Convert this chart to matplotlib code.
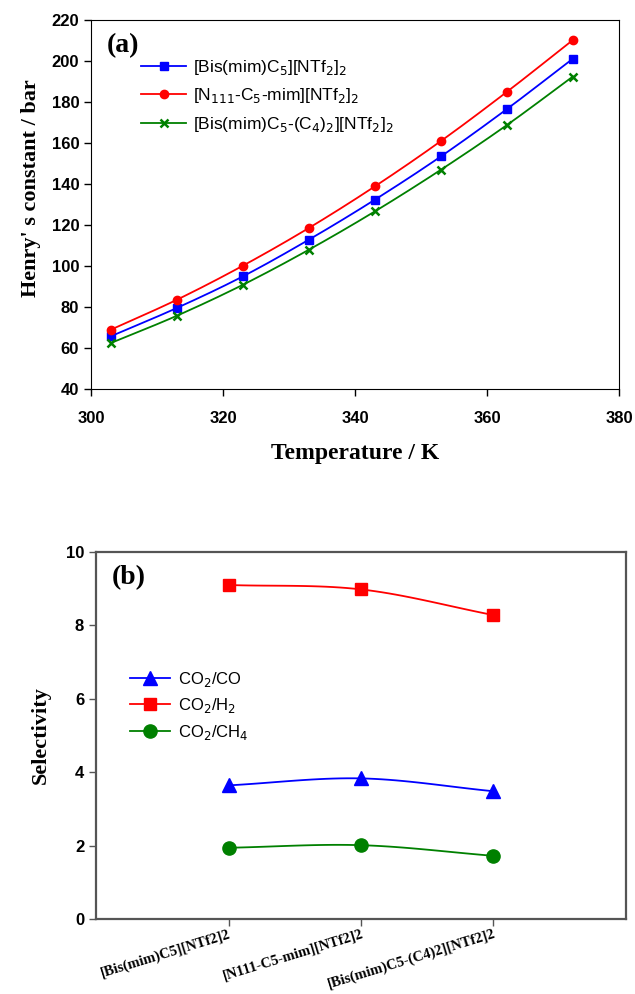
import matplotlib
matplotlib.use("Agg")
import matplotlib.pyplot as plt
import numpy as np

# ── Data
temps = [303, 313, 323, 333, 343, 353, 363, 373]
h_bis = [65.7, 79.5, 94.9, 112.8, 132.3, 153.4, 176.5, 201.1]
h_n111 = [68.9, 83.5, 100.1, 118.5, 138.8, 160.9, 184.9, 210.2]
h_bisc4 = [62.4, 75.7, 90.8, 107.9, 126.6, 146.9, 168.7, 192.4]

il_names = ["[Bis(mim)C5][NTf2]2", "[N111-C5-mim][NTf2]2", "[Bis(mim)C5-(C4)2][NTf2]2"]
sel_co = [3.64, 3.83, 3.48]
sel_h2 = [9.10, 8.98, 8.28]
sel_ch4 = [1.94, 2.01, 1.72]

SANS = "Liberation Sans"
SERIF = "Liberation Serif"


def smooth(x, y, n=20):
    # Catmull-Rom through the points
    x = np.asarray(x, float); y = np.asarray(y, float)
    px = np.concatenate([[2 * x[0] - x[1]], x, [2 * x[-1] - x[-2]]])
    py = np.concatenate([[2 * y[0] - y[1]], y, [2 * y[-1] - y[-2]]])
    xs, ys = [], []
    t = np.linspace(0, 1, n)
    for i in range(1, len(px) - 2):
        for p, out in ((px, xs), (py, ys)):
            p0, p1, p2, p3 = p[i - 1], p[i], p[i + 1], p[i + 2]
            out.append(0.5 * (2 * p1 + (-p0 + p2) * t
                              + (2 * p0 - 5 * p1 + 4 * p2 - p3) * t ** 2
                              + (-p0 + 3 * p1 - 3 * p2 + p3) * t ** 3))
    return np.concatenate(xs), np.concatenate(ys)


fig = plt.figure(figsize=(6.35, 9.94), dpi=100)

# ── (a) Henry's constant
ax1 = fig.add_axes([0.1433, 0.6087, 0.8315, 0.3712])
series_a = [
    (h_bis, "blue", "s", 5.5, r"[Bis(mim)C$_5$][NTf$_2$]$_2$"),
    (h_n111, "red", "o", 6, r"[N$_{111}$-C$_5$-mim][NTf$_2$]$_2$"),
    (h_bisc4, "green", "x", 6, r"[Bis(mim)C$_5$-(C$_4$)$_2$][NTf$_2$]$_2$"),
]
for vals, c, m, ms, lab in series_a:
    sx, sy = smooth(temps, vals)
    ax1.plot(sx, sy, color=c, lw=1.3)
    ax1.plot(temps, vals, ls="none", marker=m, color=c, ms=ms, mew=1.8 if m == "x" else 1)
    ax1.plot([], [], color=c, lw=1.3, marker=m, ms=ms, mew=1.8 if m == "x" else 1, label=lab)

ax1.set_xlim(300, 380)
ax1.set_ylim(40, 220)
ax1.set_xticks(range(300, 381, 20))
ax1.set_yticks(range(40, 221, 20))
ax1.set_xlabel("Temperature / K", family=SERIF, weight="bold", fontsize=17, labelpad=12)
ax1.set_ylabel("Henry' s constant / bar", family=SERIF, weight="bold", fontsize=16)
ax1.yaxis.set_label_coords(-0.095, 0.545)
ax1.text(0.03, 0.965, "(a)", transform=ax1.transAxes, family=SERIF, weight="bold",
         fontsize=20, va="top")
ax1.legend(loc="upper left", bbox_to_anchor=(0.065, 0.94), frameon=False,
           prop={"family": SANS, "size": 12.5}, handlelength=2.6, handletextpad=0.4,
           labelspacing=0.55)

# ── (b) Selectivity
ax2 = fig.add_axes([0.1512, 0.0755, 0.8346, 0.3692])
xpos = np.arange(1, len(il_names) + 1)
series_b = [
    (sel_co, "blue", "^", 9.5, r"CO$_2$/CO"),
    (sel_h2, "red", "s", 9, r"CO$_2$/H$_2$"),
    (sel_ch4, "green", "o", 9.5, r"CO$_2$/CH$_4$"),
]
for vals, c, m, ms, lab in series_b:
    sx, sy = smooth(xpos, vals)
    ax2.plot(sx, sy, color=c, lw=1.3)
    ax2.plot(xpos, vals, ls="none", marker=m, color=c, ms=ms)
    ax2.plot([], [], color=c, lw=1.3, marker=m, ms=ms, label=lab)

ax2.set_xlim(0, 4)
ax2.set_ylim(0, 10)
ax2.set_yticks(range(0, 11, 2))
ax2.set_xticks(xpos)
ax2.set_xticklabels(il_names, rotation=17, ha="right", rotation_mode="anchor",
                    family=SERIF, weight="bold", fontsize=10.5)
ax2.tick_params(axis="x", pad=1)
ax2.set_ylabel("Selectivity", family=SERIF, weight="bold", fontsize=16, labelpad=11)
ax2.text(0.03, 0.965, "(b)", transform=ax2.transAxes, family=SERIF, weight="bold",
         fontsize=20, va="top")
ax2.legend(loc="upper left", bbox_to_anchor=(0.035, 0.72), frameon=False,
           prop={"family": SANS, "size": 12}, handlelength=2.4, handletextpad=0.5,
           labelspacing=0.45)

for ax in (ax1, ax2):
    ax.tick_params(direction="out", length=5, width=1)
    for lbl in ax.get_yticklabels():
        lbl.set_family(SANS); lbl.set_weight("bold"); lbl.set_fontsize(12)
for lbl in ax1.get_xticklabels():
    lbl.set_family(SANS); lbl.set_weight("bold"); lbl.set_fontsize(12)
ax1.tick_params(axis="x", pad=11)
for s in ax2.spines.values():
    s.set_color("#555555"); s.set_linewidth(1.6)
ax2.tick_params(color="#555555")

fig.savefig("out.png", dpi=100)
